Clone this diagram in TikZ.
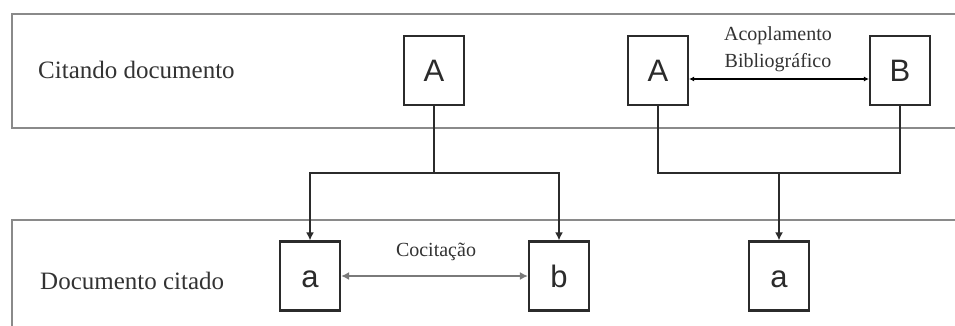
\documentclass[tikz,border=0pt]{standalone}
\usepackage{fontspec}
\setmainfont{Liberation Serif}
\newfontfamily\boxfont{Liberation Sans}
\usetikzlibrary{arrows.meta}
\definecolor{bandgray}{HTML}{8A8A8A}
\definecolor{inkdark}{HTML}{2B2B2B}
\definecolor{labelgray}{HTML}{333333}
\definecolor{cocgray}{HTML}{7A7A7A}
\begin{document}
\begin{tikzpicture}[x=1pt,y=-1pt,
  band/.style={draw=bandgray,line width=2.6pt},
  docbox/.style={draw=inkdark,line width=2.2pt,minimum width=60pt,minimum height=69pt,
    inner sep=0pt,font=\boxfont\fontsize{31}{31}\selectfont,text=inkdark,
    text height=22pt,text depth=0pt},
  rowlabel/.style={anchor=base west,inner sep=0pt,text=labelgray,
    font=\fontsize{25}{25}\selectfont},
  linklabel/.style={inner sep=0pt,text=labelgray,align=center,
    font=\fontsize{20}{27}\selectfont},
  cites/.style={draw=inkdark,line width=2.2pt},
  citearrow/.style={cites,-{Latex[length=8pt,width=8pt]}},
  couple/.style={draw=black,line width=1.3pt,{Latex[length=5pt,width=5pt]}-{Latex[length=5pt,width=5pt]}},
  cocite/.style={draw=cocgray,line width=2pt,{Latex[length=8pt,width=8pt]}-{Latex[length=8pt,width=8pt]}}
]
\useasboundingbox (0,0) rectangle (955,326);
\fill[white] (0,0) rectangle (955,326);

% two bands: citing documents on top, cited documents below
\draw[band] (960,14) -- (12,14) -- (12,128) -- (960,128);
\draw[band] (960,220) -- (12,220) -- (12,330);

\node[rowlabel] (citing) at (38,79) {Citando documento};
\node[rowlabel] (cited) at (40,289) {Documento citado};

% documents
\node[docbox] (A1) at (434,70.5) {A};
\node[docbox] (A2) at (658,70.5) {A};
\node[docbox] (B)  at (900,70.5) {B};
\node[docbox] (a1) at (310,276) {a};
\node[docbox] (b)  at (559,276) {b};
\node[docbox] (a2) at (779,276) {a};

% co-citation: A cites both a and b
\coordinate (j1) at (434,173);
\draw[cites] (A1.south) -- (j1);
\draw[citearrow] (j1) -| (a1.north);
\draw[citearrow] (j1) -| (b.north);

% bibliographic coupling: A and B both cite a
\coordinate (j2) at (779,173);
\draw[cites] (A2.south) |- (j2);
\draw[cites] (B.south) |- (j2);
\draw[citearrow] (j2) -- (a2.north);

\draw[couple] ([yshift=-8.5pt]A2.east) -- ([yshift=-8.5pt]B.west);
\node[linklabel] (couplelabel) at (778,49) {Acoplamento\\Bibliográfico};

\draw[cocite] (a1.east) -- (b.west);
\node[linklabel,anchor=base] (cocitelabel) at (436,256) {Cocitação};
\end{tikzpicture}
\end{document}
